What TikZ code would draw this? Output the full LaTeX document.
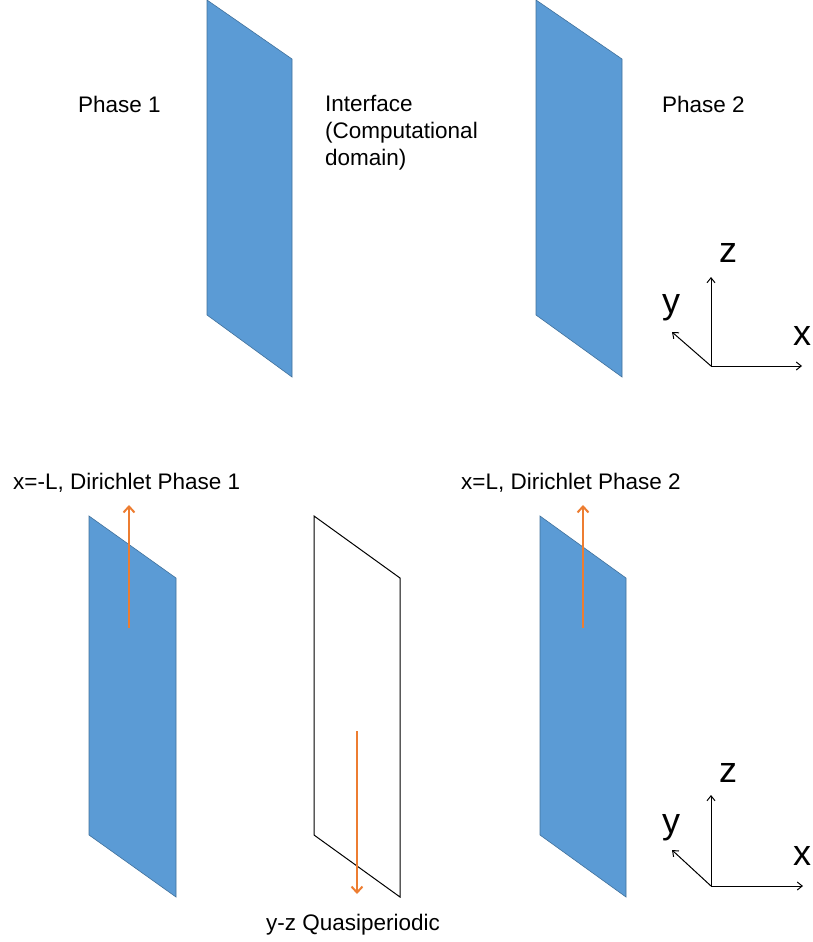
\documentclass[tikz,border=0pt]{standalone}
\usepackage{fontspec}
\setmainfont{Liberation Sans}
\usetikzlibrary{arrows.meta}
\definecolor{panelblue}{HTML}{5B9BD5}
\definecolor{paneledge}{HTML}{41719C}
\definecolor{arroworange}{HTML}{ED7D31}
\tikzset{
  panel/.style={fill=panelblue, draw=paneledge, line width=0.6pt, line join=miter},
  emptypanel/.style={draw=black, line width=1pt},
  lbl/.style={inner sep=0pt, font=\fontsize{22.5}{27}\selectfont, anchor=base west},
  axlbl/.style={inner sep=0pt, font=\fontsize{36}{40}\selectfont, anchor=base},
  axarrow/.style={draw=black, line width=1pt, -{Straight Barb[length=5pt,width=8pt]}},
  flux/.style={draw=arroworange, line width=2pt, -{Straight Barb[length=6pt,width=11pt,line width=2pt]}}
}
\begin{document}
\begin{tikzpicture}[x=1pt,y=-1pt]
\useasboundingbox (0,0) rectangle (813,942);
% top panels
\path[panel] (207,0) -- (292,59) -- (292,377) -- (207,315) -- cycle;
\path[panel] (536,0) -- (622,59) -- (622,377) -- (536,315) -- cycle;
% top labels
\node[lbl] (p1) at (78,112) {Phase 1};
\node[inner sep=0pt, font=\fontsize{22.5}{27}\selectfont, align=left, anchor=north west] (itf) at (325,95.5) {Interface\\(Computational\\domain)};
\node[lbl] (p2) at (662,112) {Phase 2};
% top axes
\coordinate (o1) at (711,366);
\coordinate (z1) at (711,277);
\coordinate (x1) at (802,366);
\coordinate (y1) at (672,332);
\draw[axarrow] (o1) -- (z1);
\draw[axarrow] (o1) -- (x1);
\draw[axarrow] (o1) -- (y1);
\node[axlbl] (lz1) at (728,262) {z};
\node[axlbl] (ly1) at (671,313) {y};
\node[axlbl] (lx1) at (802,345) {x};
% bottom panels
\path[panel] (89,516) -- (176,578) -- (176,897) -- (89,835) -- cycle;
\path[emptypanel] (314,516) -- (400,578) -- (400,897) -- (314,835) -- cycle;
\path[panel] (540,516) -- (626,578) -- (626,897) -- (540,835) -- cycle;
% orange arrows
\coordinate (a1s) at (129,628);
\coordinate (a1e) at (129,505);
\coordinate (a2s) at (357,731);
\coordinate (a2e) at (357,894);
\coordinate (a3s) at (583,628);
\coordinate (a3e) at (583,505);
\draw[flux] (a1s) -- (a1e);
\draw[flux] (a2s) -- (a2e);
\draw[flux] (a3s) -- (a3e);
% bottom labels
\node[lbl] (d1) at (13,489) {x=-L, Dirichlet Phase 1};
\node[lbl] (d2) at (461,489) {x=L, Dirichlet Phase 2};
\node[lbl] (qp) at (266,930) {y-z Quasiperiodic};
% bottom axes
\coordinate (o2) at (711,886);
\coordinate (z2) at (711,795);
\coordinate (x2) at (803,886);
\coordinate (y2) at (672,850);
\draw[axarrow] (o2) -- (z2);
\draw[axarrow] (o2) -- (x2);
\draw[axarrow] (o2) -- (y2);
\node[axlbl] (lz2) at (728,782) {z};
\node[axlbl] (ly2) at (671,833) {y};
\node[axlbl] (lx2) at (802,865) {x};
\end{tikzpicture}
\end{document}
